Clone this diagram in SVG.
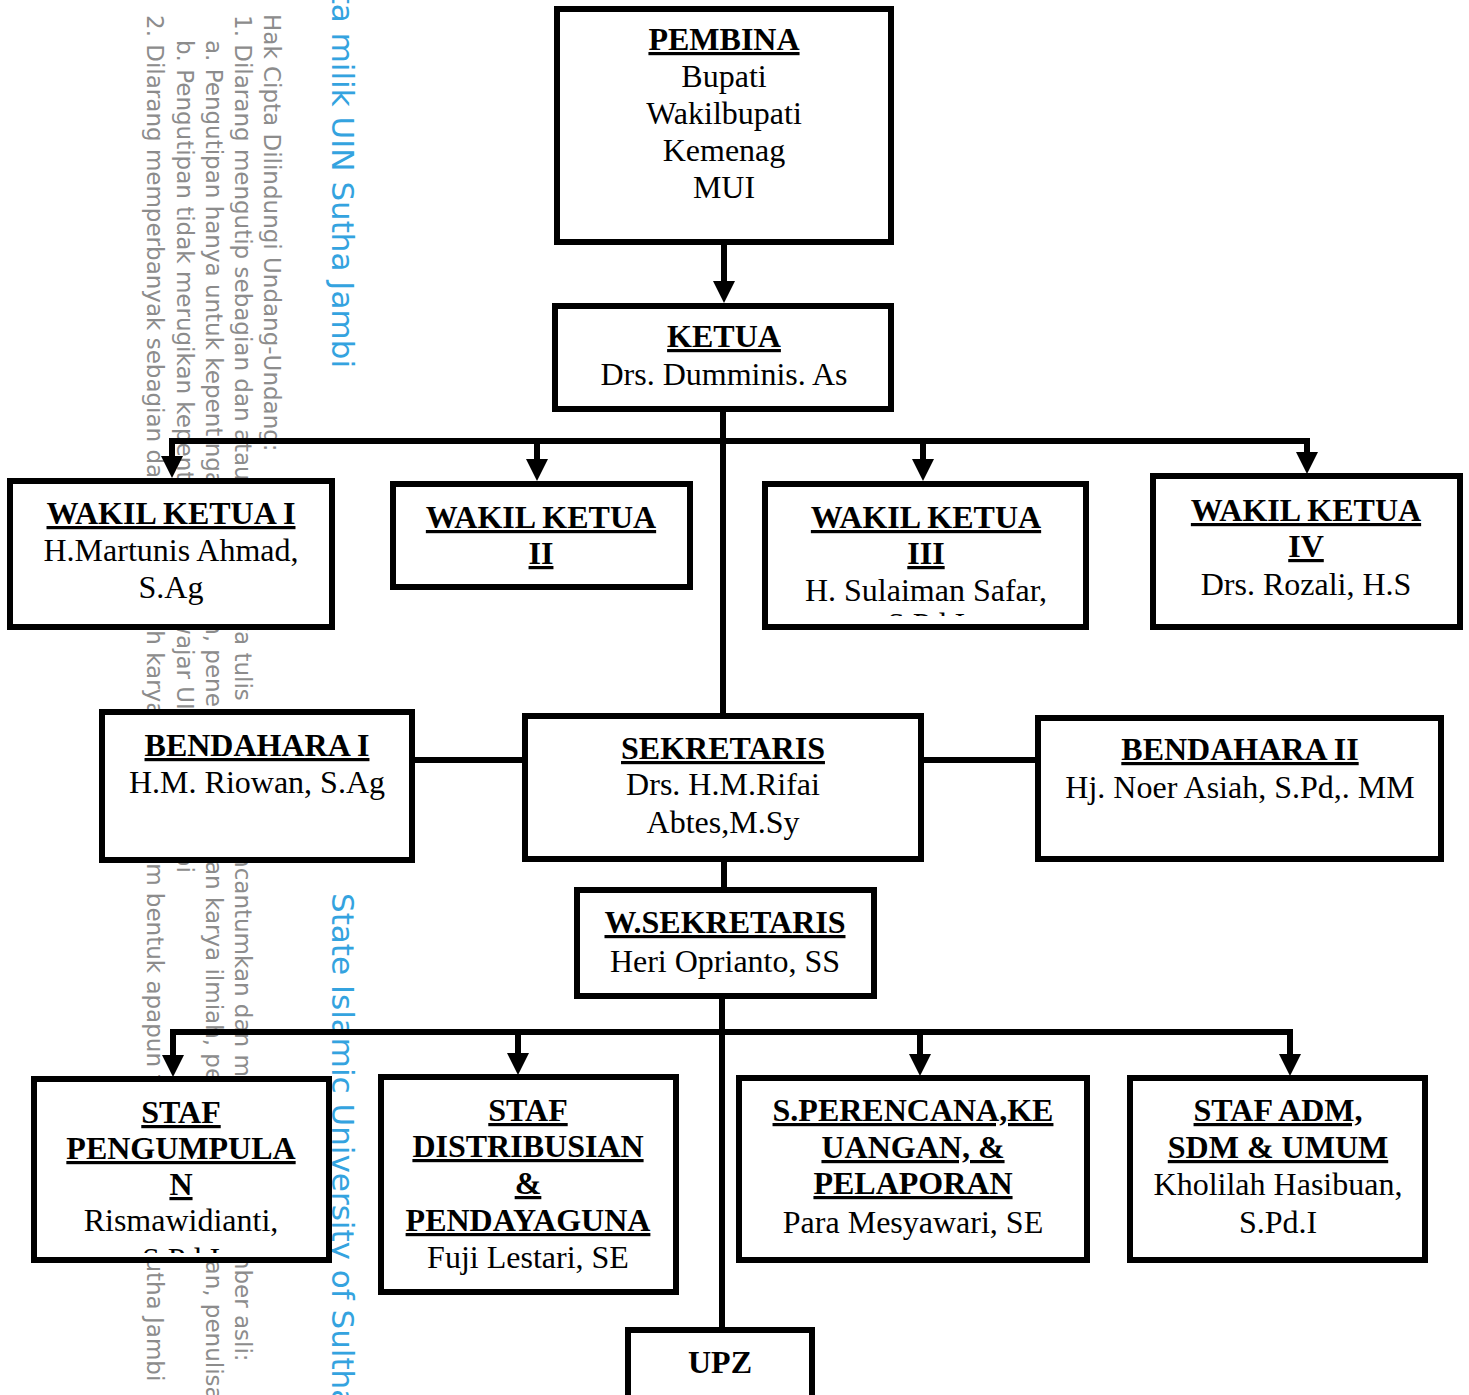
<svg xmlns="http://www.w3.org/2000/svg" width="1469" height="1395" viewBox="0 0 1469 1395">
<style>
.box{fill:#fff;stroke:#000;stroke-width:6}
.t{font-family:"Liberation Serif","Times New Roman",serif;font-size:32px;fill:#000;text-anchor:middle}
.h{font-weight:bold;text-decoration:underline}
.c{fill:none;stroke:#000;stroke-width:6}
.wm{font-family:"DejaVu Sans",sans-serif;font-size:23px;fill:#8c8c8c}
.wb{font-family:"DejaVu Sans",sans-serif;font-size:31px;fill:#34a3df}
</style>
<defs>
<marker id="ah" viewBox="0 0 22 22" refX="0" refY="11" markerWidth="22" markerHeight="22" markerUnits="userSpaceOnUse" orient="auto">
<path d="M0,0 L22,11 L0,22 z" fill="#000"/>
</marker>
<clipPath id="cp3"><rect x="768" y="487" width="315" height="129"/></clipPath>
<clipPath id="cpP"><rect x="37" y="1082" width="289" height="171"/></clipPath>
</defs>
<g id="watermark">
<text class="wm" transform="translate(264,14) rotate(90)">Hak Cipta Dilindungi Undang-Undang:</text>
<text class="wm" transform="translate(235,15) rotate(90)">1. Dilarang mengutip sebagian dan atau seluruh karya tulis ini tanpa mencantumkan dan menyebutkan sumber asli:</text>
<text class="wm" transform="translate(206,40) rotate(90)">a. Pengutipan hanya untuk kepentingan pendidikan, penelitian, penulisan karya ilmiah, penyusunan laporan, penulisan kritik atau tinjauan suatu masalah.</text>
<text class="wm" transform="translate(177,40) rotate(90)">b. Pengutipan tidak merugikan kepentingan yang wajar UIN Sutha Jambi</text>
<text class="wm" transform="translate(147,15) rotate(90)">2. Dilarang memperbanyak sebagian dan atau seluruh karya tulis ini dalam bentuk apapun tanpa izin UIN Sutha Jambi</text>
<text class="wb" transform="translate(332,368) rotate(90)" text-anchor="end">Hak Cipta milik UIN Sutha Jambi</text>
<text class="wb" transform="translate(332,893) rotate(90)">State Islamic University of Sulthan Thaha Saifuddin Jambi</text>
</g>
<g id="connectors">
<line class="c" x1="724" y1="242" x2="724" y2="281" marker-end="url(#ah)"/>
<line class="c" x1="723" y1="409" x2="723" y2="716"/>
<line class="c" x1="169" y1="441" x2="1310" y2="441"/>
<line class="c" x1="172" y1="441" x2="172" y2="456" marker-end="url(#ah)"/>
<line class="c" x1="537" y1="441" x2="537" y2="459" marker-end="url(#ah)"/>
<line class="c" x1="923" y1="441" x2="923" y2="459" marker-end="url(#ah)"/>
<line class="c" x1="1307" y1="438" x2="1307" y2="452" marker-end="url(#ah)"/>
<line class="c" x1="412" y1="760" x2="525" y2="760"/>
<line class="c" x1="921" y1="760" x2="1038" y2="760"/>
<line class="c" x1="724" y1="859" x2="724" y2="890"/>
<line class="c" x1="722" y1="996" x2="722" y2="1330"/>
<line class="c" x1="170" y1="1032" x2="1293" y2="1032"/>
<line class="c" x1="173" y1="1032" x2="173" y2="1055" marker-end="url(#ah)"/>
<line class="c" x1="518" y1="1032" x2="518" y2="1053" marker-end="url(#ah)"/>
<line class="c" x1="920" y1="1032" x2="920" y2="1054" marker-end="url(#ah)"/>
<line class="c" x1="1290" y1="1029" x2="1290" y2="1054" marker-end="url(#ah)"/>
</g>
<g id="pembina">
<rect class="box" x="557" y="9" width="334" height="233"/>
<text class="t h" x="724" y="50">PEMBINA</text>
<text class="t" x="724" y="87">Bupati</text>
<text class="t" x="724" y="124">Wakilbupati</text>
<text class="t" x="724" y="161">Kemenag</text>
<text class="t" x="724" y="198">MUI</text>
</g>
<g id="ketua">
<rect class="box" x="555" y="306" width="336" height="103"/>
<text class="t h" x="724" y="347">KETUA</text>
<text class="t" x="724" y="385">Drs. Dumminis. As</text>
</g>
<g id="wakil1">
<rect class="box" x="10" y="481" width="322" height="146"/>
<text class="t h" x="171" y="524">WAKIL KETUA I</text>
<text class="t" x="171" y="561">H.Martunis Ahmad,</text>
<text class="t" x="171" y="598">S.Ag</text>
</g>
<g id="wakil2">
<rect class="box" x="393" y="484" width="297" height="103"/>
<text class="t h" x="541" y="528">WAKIL KETUA</text>
<text class="t h" x="541" y="564">II</text>
</g>
<g id="wakil3">
<rect class="box" x="765" y="484" width="321" height="143"/>
<text class="t h" x="926" y="528">WAKIL KETUA</text>
<text class="t h" x="926" y="564">III</text>
<text class="t" x="926" y="601">H. Sulaiman Safar,</text>
<text class="t" x="926" y="635" clip-path="url(#cp3)">S.Pd.I</text>
</g>
<g id="wakil4">
<rect class="box" x="1153" y="476" width="307" height="151"/>
<text class="t h" x="1306" y="521">WAKIL KETUA</text>
<text class="t h" x="1306" y="557">IV</text>
<text class="t" x="1306" y="595">Drs. Rozali, H.S</text>
</g>
<g id="bendahara1">
<rect class="box" x="102" y="712" width="310" height="148"/>
<text class="t h" x="257" y="756">BENDAHARA I</text>
<text class="t" x="257" y="793">H.M. Riowan, S.Ag</text>
</g>
<g id="sekretaris">
<rect class="box" x="525" y="716" width="396" height="143"/>
<text class="t h" x="723" y="759">SEKRETARIS</text>
<text class="t" x="723" y="795">Drs. H.M.Rifai</text>
<text class="t" x="723" y="833">Abtes,M.Sy</text>
</g>
<g id="bendahara2">
<rect class="box" x="1038" y="718" width="403" height="141"/>
<text class="t h" x="1240" y="760">BENDAHARA II</text>
<text class="t" x="1240" y="798">Hj. Noer Asiah, S.Pd,. MM</text>
</g>
<g id="wsekretaris">
<rect class="box" x="577" y="890" width="297" height="106"/>
<text class="t h" x="725" y="933">W.SEKRETARIS</text>
<text class="t" x="725" y="972">Heri Oprianto, SS</text>
</g>
<g id="staf-pengumpulan">
<rect class="box" x="34" y="1079" width="295" height="181"/>
<text class="t h" x="181" y="1123">STAF</text>
<text class="t h" x="181" y="1159">PENGUMPULA</text>
<text class="t h" x="181" y="1195">N</text>
<text class="t" x="181" y="1231">Rismawidianti,</text>
<text class="t" x="181" y="1270" clip-path="url(#cpP)">S.Pd.I</text>
</g>
<g id="staf-distribusian">
<rect class="box" x="381" y="1077" width="295" height="215"/>
<text class="t h" x="528" y="1121">STAF</text>
<text class="t h" x="528" y="1157">DISTRIBUSIAN</text>
<text class="t h" x="528" y="1194">&amp;</text>
<text class="t h" x="528" y="1231">PENDAYAGUNA</text>
<text class="t" x="528" y="1268">Fuji Lestari, SE</text>
</g>
<g id="staf-perencanaan">
<rect class="box" x="739" y="1078" width="348" height="182"/>
<text class="t h" x="913" y="1121">S.PERENCANA,KE</text>
<text class="t h" x="913" y="1158">UANGAN, &amp;</text>
<text class="t h" x="913" y="1194">PELAPORAN</text>
<text class="t" x="913" y="1233">Para Mesyawari, SE</text>
</g>
<g id="staf-adm">
<rect class="box" x="1130" y="1078" width="295" height="182"/>
<text class="t h" x="1278" y="1121">STAF ADM,</text>
<text class="t h" x="1278" y="1158">SDM &amp; UMUM</text>
<text class="t" x="1278" y="1195">Kholilah Hasibuan,</text>
<text class="t" x="1278" y="1233">S.Pd.I</text>
</g>
<g id="upz">
<rect class="box" x="628" y="1330" width="184" height="80"/>
<text class="t h" x="720" y="1373" style="text-decoration:none">UPZ</text>
</g>
</svg>
